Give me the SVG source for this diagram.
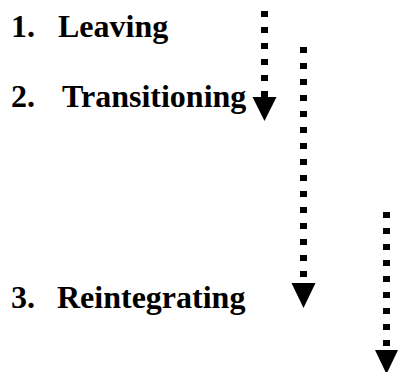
<svg xmlns="http://www.w3.org/2000/svg" width="398" height="372" viewBox="0 0 398 372">
  <style>
    .label { font-family: "Liberation Serif", "Times New Roman", serif; font-weight: bold; font-size: 32px; fill: #000; }
    .shaft { stroke: #000; stroke-width: 7; stroke-dasharray: 6 10; fill: none; }
    .head { fill: #000; }
  </style>
  <rect width="398" height="372" fill="#fff"/>

  <g id="stage-1">
    <text class="label" x="11" y="37">1.</text>
    <text class="label" x="58" y="37">Leaving</text>
  </g>
  <g id="stage-2">
    <text class="label" x="11" y="107">2.</text>
    <text class="label" x="62" y="107">Transitioning</text>
  </g>
  <g id="stage-3">
    <text class="label" x="11" y="308">3.</text>
    <text class="label" x="57" y="308">Reintegrating</text>
  </g>

  <g id="connectors">
    <line class="shaft" x1="264.5" y1="11" x2="264.5" y2="97"/>
    <polygon class="head" points="252.5,97 276.5,97 264.5,121"/>
    <line class="shaft" x1="303.5" y1="47" x2="303.5" y2="283"/>
    <polygon class="head" points="291.5,283 315.5,283 303.5,308"/>
    <line class="shaft" x1="386.5" y1="212" x2="386.5" y2="350"/>
    <polygon class="head" points="375,350 398,350 386.5,374"/>
  </g>
</svg>
